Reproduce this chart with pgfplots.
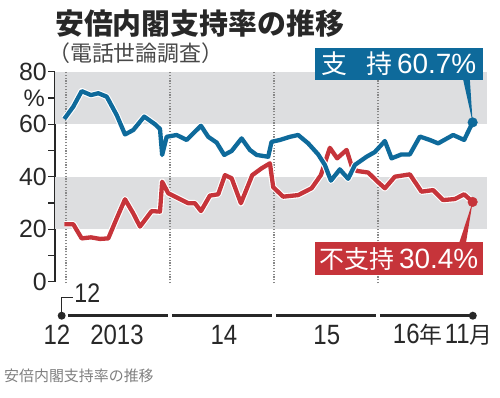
\documentclass[border=0pt]{standalone}
\usepackage{pgfplots}
\pgfplotsset{compat=1.18}
\usepackage{pgfplotstable}
\usepackage{fontspec}
\setmainfont{Liberation Sans}
\newfontfamily\cond[FakeStretch=0.86]{Liberation Sans}
\newfontfamily\jp{Noto Sans CJK JP}
\definecolor{sblue}{RGB}{14,106,155}
\definecolor{sred}{RGB}{198,52,58}
\definecolor{band}{RGB}{221,222,224}
\definecolor{dots}{RGB}{135,135,135}
\definecolor{ink}{RGB}{40,40,40}

\pgfplotstableread{
m v
-0.20 62.0
0.84 66.7
1.81 72.6
2.88 71.1
3.73 71.8
4.70 70.5
5.85 63.5
6.81 56.1
7.77 57.8
9.03 62.9
10.27 60.0
10.85 58.2
11.10 48.3
11.62 55.2
12.77 55.9
13.93 54.0
14.69 56.5
15.58 59.4
16.42 55.2
17.39 53.0
18.26 48.3
19.12 49.8
20.27 54.6
21.23 50.2
22.00 48.3
23.34 47.6
23.73 53.3
24.69 54.0
25.85 55.2
26.80 55.9
27.96 52.7
29.11 48.5
29.88 44.5
30.58 38.5
31.61 42.8
32.57 39.2
33.35 44.5
34.69 47.6
35.65 49.4
36.81 53.6
37.58 47.0
38.73 48.5
39.69 48.5
40.85 55.3
42.00 54.0
42.96 52.7
44.69 55.9
45.96 54.0
46.94 60.7
}\support

\pgfplotstableread{
m v
-0.20 21.9
0.84 21.9
1.81 16.5
2.88 16.9
3.92 16.3
4.88 16.5
5.85 24.1
6.81 31.4
7.77 26.0
8.54 21.0
9.89 26.9
10.85 26.7
11.10 38.1
11.80 33.7
12.96 31.8
14.11 29.9
14.88 29.9
15.58 26.9
16.61 32.8
17.57 33.3
18.35 40.6
19.12 39.4
20.19 29.9
21.50 40.6
22.58 43.2
23.54 45.1
23.92 36.0
25.07 32.4
26.80 33.0
28.35 35.6
29.42 40.6
30.46 51.0
31.30 47.0
32.39 50.2
33.00 43.8
33.58 42.2
34.88 41.6
36.00 38.0
36.81 35.6
37.96 40.0
39.69 40.9
41.04 34.3
42.38 34.9
43.53 31.1
44.88 31.5
45.96 33.3
46.94 30.4
}\nonsupport

\begin{document}
\begin{tikzpicture}[x=1bp,y=1bp]
\useasboundingbox (0,0) rectangle (500,-397);
\node[anchor=base west, inner sep=0, text=ink] at (55,-34) {\jp\bfseries\fontsize{29}{29}\selectfont 安倍内閣支持率の推移};
\node[anchor=base west, inner sep=0, text=ink!85] at (48,-61) {\jp\fontsize{22}{22}\selectfont （電話世論調査）};
\node[anchor=base west, inner sep=0, text=gray] at (4,-381) {\jp\fontsize{15}{15}\selectfont 安倍内閣支持率の推移};

\begin{axis}[
  at={(55bp,-281.7bp)}, anchor=south west,
  width=432bp, height=210bp, scale only axis,
  xmin=-1.27, xmax=48.6, ymin=0, ymax=80,
  clip=false,
  axis x line=none, axis y line*=left,
  y axis line style={line width=1.2bp, ink, -},
  ytick={0,20,40,60,80}, minor ytick={10,30,50,70},
  tick align=outside,
  major tick length=7bp, minor tick length=7bp,
  every tick/.style={line width=1.2bp, ink},
  /pgf/number format/assume math mode=true,
  yticklabel style={font=\fontsize{25}{25}\selectfont, text=ink, inner sep=1bp},
]
% bands
\fill[band] (axis cs:-1.27,60) rectangle (axis cs:48.6,80);
\fill[band] (axis cs:-1.27,20) rectangle (axis cs:48.6,40);
% dotted year lines
\foreach \xx in {0,12,24,36}{
  \edef\tmp{\noexpand\draw[dots, line width=1.3bp, dash pattern=on 1.3bp off 1.5bp] (axis cs:\xx,-0.6) -- (axis cs:\xx,80);}
  \tmp
}
\addplot[white, line width=6.5bp, line join=round] table[x=m,y=v] {\nonsupport};
\addplot[sred, line width=4.3bp, line join=round] table[x=m,y=v] {\nonsupport};
\addplot[white, line width=6.5bp, line join=round] table[x=m,y=v] {\support};
\addplot[sblue, line width=4.3bp, line join=round] table[x=m,y=v] {\support};
\addplot[only marks, mark=*, mark size=4.8bp, sblue] coordinates {(46.94,60.7)};
\addplot[only marks, mark=*, mark size=4.8bp, sred] coordinates {(46.94,30.4)};

% percent sign
\node[anchor=east, text=ink, font=\fontsize{24}{24}\selectfont, inner sep=0] at (axis cs:-1.27,70) [xshift=-10bp] {\%};

% label boxes
\fill[sblue] (axis cs:45.81,77.5) -- (axis cs:46.61,77.5) -- (axis cs:46.94,60.7) -- cycle;
\fill[sblue] (axis cs:28.73,76.84) rectangle (axis cs:48.11,89.03);
\node[text=white, inner sep=0] at (axis cs:38.42,82.9) {\jp\fontsize{26}{26}\selectfont 支\hspace{19bp}持\hspace{5bp}\fontsize{28}{28}\selectfont\rmfamily 60.7\%};
\fill[sred] (axis cs:45.35,14.4) -- (axis cs:46.15,14.4) -- (axis cs:46.94,30.4) -- cycle;
\fill[sred] (axis cs:28.73,2.55) rectangle (axis cs:48.11,15.12);
\node[text=white, inner sep=0] at (axis cs:38.42,8.8) {\jp\fontsize{25}{25}\selectfont 不支持\hspace{5bp}\fontsize{28}{28}\selectfont\rmfamily 30.4\%};

% timeline
\draw[ink, line width=3.5bp] (axis cs:0.23,-12.95) -- (axis cs:11.77,-12.95);
\draw[ink, line width=3.5bp] (axis cs:12.23,-12.95) -- (axis cs:23.77,-12.95);
\draw[ink, line width=3.5bp] (axis cs:24.23,-12.95) -- (axis cs:35.77,-12.95);
\draw[ink, line width=3.5bp] (axis cs:36.23,-12.95) -- (axis cs:46.7,-12.95);
\fill[ink] (axis cs:-0.5,-12.95) circle[radius=4bp];
\fill[ink] (axis cs:46.96,-12.95) circle[radius=4bp];
\draw[ink, line width=1.2bp] (axis cs:-0.5,-12.95) -- (axis cs:-0.5,-5.87) -- (axis cs:0.75,-5.87);
\node[anchor=west, text=ink, font=\cond\fontsize{27}{27}\selectfont, inner sep=0] at (axis cs:0.95,-4.3) {12};
\node[text=ink, font=\cond\fontsize{28}{28}\selectfont, inner sep=0] at (axis cs:-1.04,-20.3) {12};
\node[text=ink, font=\cond\fontsize{28}{28}\selectfont, inner sep=0] at (axis cs:5.88,-20.3) {2013};
\node[text=ink, font=\cond\fontsize{28}{28}\selectfont, inner sep=0] at (axis cs:18.23,-20.3) {14};
\node[text=ink, font=\cond\fontsize{28}{28}\selectfont, inner sep=0] at (axis cs:30.1,-20.3) {15};
\node[text=ink, font=\cond\fontsize{28}{28}\selectfont, inner sep=0] at (axis cs:40.6,-20.3) {16{\jp\fontsize{23}{23}\selectfont 年}};
\node[text=ink, font=\cond\fontsize{28}{28}\selectfont, inner sep=0] at (axis cs:46.5,-20.3) {11{\jp\fontsize{23}{23}\selectfont 月}};
\end{axis}
\end{tikzpicture}
\end{document}
